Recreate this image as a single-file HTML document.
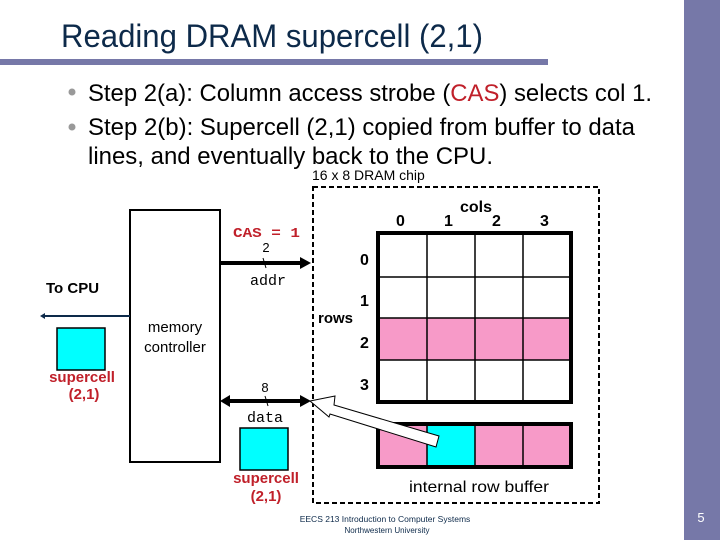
<!DOCTYPE html>
<html><head><meta charset="utf-8"><style>
body{margin:0}
svg{display:block}
</style></head><body>
<svg width="720" height="540" viewBox="0 0 720 540" xmlns="http://www.w3.org/2000/svg" font-family="Liberation Sans, Arial, sans-serif">
<rect width="720" height="540" fill="#fff"/>
<rect x="684" y="0" width="36" height="540" fill="#7678a8"/>
<rect x="0" y="59" width="548" height="6" fill="#7678a8"/>
<text x="61" y="47" font-size="32" fill="#0d2a4a" textLength="422" lengthAdjust="spacingAndGlyphs">Reading DRAM supercell (2,1)</text>
<circle cx="72" cy="92" r="3.5" fill="#999"/>
<circle cx="72" cy="127" r="3.5" fill="#999"/>
<g font-size="24" fill="#000">
<text x="88" y="101" textLength="564" lengthAdjust="spacingAndGlyphs">Step 2(a): Column access strobe (<tspan fill="#c0202a">CAS</tspan>) selects col 1.</text>
<text x="88" y="135" textLength="547" lengthAdjust="spacingAndGlyphs">Step 2(b): Supercell (2,1) copied from buffer to data</text>
<text x="88" y="164" textLength="405" lengthAdjust="spacingAndGlyphs">lines, and eventually back to the CPU.</text>
</g>
<text x="312" y="180" font-size="14">16 x 8 DRAM chip</text>
<rect x="313" y="187" width="286" height="316" fill="none" stroke="#000" stroke-width="2" stroke-dasharray="5,3"/>
<rect x="378" y="318" width="193" height="42" fill="#f79ac8"/>
<g stroke="#000" stroke-width="1.5">
<line x1="378" y1="277" x2="571" y2="277"/><line x1="378" y1="318" x2="571" y2="318"/><line x1="378" y1="360" x2="571" y2="360"/>
<line x1="427" y1="233" x2="427" y2="402"/><line x1="475" y1="233" x2="475" y2="402"/><line x1="523" y1="233" x2="523" y2="402"/>
</g>
<rect x="378" y="233" width="193" height="169" fill="none" stroke="#000" stroke-width="4"/>
<rect x="378" y="424" width="49" height="43" fill="#f79ac8"/>
<rect x="427" y="424" width="48" height="43" fill="#00ffff"/>
<rect x="475" y="424" width="96" height="43" fill="#f79ac8"/>
<g stroke="#000" stroke-width="1.5"><line x1="427" y1="424" x2="427" y2="467"/><line x1="475" y1="424" x2="475" y2="467"/><line x1="523" y1="424" x2="523" y2="467"/></g>
<rect x="378" y="424" width="193" height="43" fill="none" stroke="#000" stroke-width="4"/>
<g font-size="16" fill="#000" font-weight="bold">
<text x="460" y="212">cols</text>
<text x="396" y="226">0</text><text x="444" y="226">1</text><text x="492" y="226">2</text><text x="540" y="226">3</text>
<text x="360" y="265">0</text><text x="360" y="306">1</text><text x="360" y="348">2</text><text x="360" y="390">3</text>
<text x="318" y="323" font-size="15">rows</text>
<text x="409" y="492" font-weight="normal" textLength="140" lengthAdjust="spacingAndGlyphs">internal row buffer</text>
</g>
<rect x="130" y="210" width="90" height="252" fill="#fff" stroke="#000" stroke-width="2"/>
<text x="175" y="332" font-size="15" text-anchor="middle">memory</text>
<text x="175" y="352" font-size="15" text-anchor="middle">controller</text>
<line x1="220" y1="263" x2="302" y2="263" stroke="#000" stroke-width="4"/>
<polygon points="300,257 311,263 300,269" fill="#000"/>
<line x1="263" y1="258" x2="266" y2="268" stroke="#000"/>
<text x="233" y="237" font-size="14" font-family="Liberation Mono, monospace" font-weight="bold" fill="#c0202a" textLength="67" lengthAdjust="spacingAndGlyphs">CAS = 1</text>
<text x="266" y="252" font-size="13" text-anchor="middle">2</text>
<text x="268" y="285" font-size="15" font-family="Liberation Mono, monospace" text-anchor="middle">addr</text>
<line x1="228" y1="401" x2="302" y2="401" stroke="#000" stroke-width="4"/>
<polygon points="300,395 311,401 300,407" fill="#000"/>
<polygon points="230,395 220,401 230,407" fill="#000"/>
<line x1="265" y1="396" x2="268" y2="406" stroke="#000"/>
<text x="265" y="392" font-size="13" text-anchor="middle">8</text>
<text x="265" y="422" font-size="15" font-family="Liberation Mono, monospace" text-anchor="middle">data</text>
<polygon points="310,401 335,396 334,405 439,436 436,447 330,414 329,417" fill="#fff" stroke="#000" stroke-width="1"/>
<line x1="42" y1="316" x2="130" y2="316" stroke="#0d2a4a" stroke-width="2"/>
<polygon points="40,316 45,313 45,319" fill="#0d2a4a"/>
<text x="46" y="293" font-size="15" font-weight="bold">To CPU</text>
<rect x="57" y="328" width="48" height="42" fill="#00ffff" stroke="#000" stroke-width="1.5"/>
<text x="82" y="382" font-size="15" font-weight="bold" fill="#c0202a" text-anchor="middle">supercell</text>
<text x="84" y="399" font-size="15" font-weight="bold" fill="#c0202a" text-anchor="middle">(2,1)</text>
<rect x="240" y="428" width="48" height="42" fill="#00ffff" stroke="#000" stroke-width="1.5"/>
<text x="266" y="483" font-size="15" font-weight="bold" fill="#c0202a" text-anchor="middle">supercell</text>
<text x="266" y="501" font-size="15" font-weight="bold" fill="#c0202a" text-anchor="middle">(2,1)</text>
<text x="385" y="522" font-size="8.5" fill="#0d2a4a" text-anchor="middle">EECS 213 Introduction to Computer Systems</text>
<text x="387" y="533" font-size="8" fill="#0d2a4a" text-anchor="middle">Northwestern University</text>
<text x="701" y="522" font-size="13" fill="#fff" text-anchor="middle">5</text>
</svg>
</body></html>
